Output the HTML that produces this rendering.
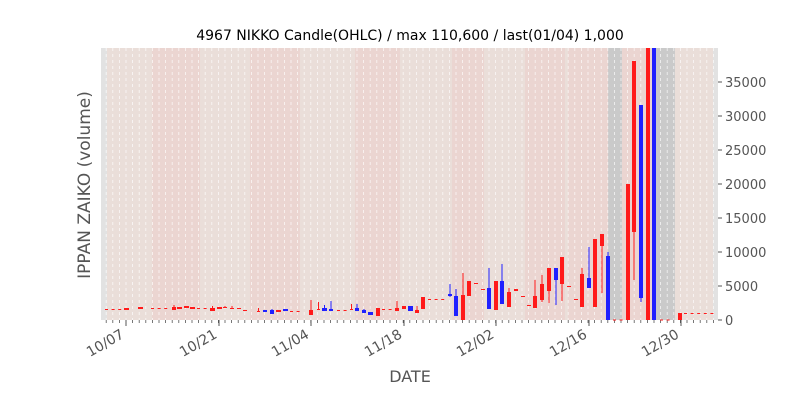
<!DOCTYPE html>
<html><head><meta charset="utf-8"><style>
html,body{margin:0;padding:0;background:#fff;width:800px;height:400px;overflow:hidden}
svg{font-family:"DejaVu Sans","Liberation Sans",sans-serif}
</style></head><body>
<svg id="s" width="800" height="400" xmlns="http://www.w3.org/2000/svg">
<text x="410" y="40" text-anchor="middle" font-size="14" fill="#000">4967 NIKKO Candle(OHLC) / max 110,600 / last(01/04) 1,000</text>
<g id="g"></g>
<text x="410" y="382" text-anchor="middle" font-size="16" fill="#555">DATE</text>
<text transform="translate(90,185) rotate(-90)" text-anchor="middle" font-size="17" fill="#555">IPPAN ZAIKO (volume)</text>
</svg>
<script>
const g=document.getElementById('g');let h='';
const L=101,R=718,T=48,B=320;
h+=`<rect x="${L}" y="${T}" width="${R-L}" height="${B-T}" fill="#eaded9"/>`;
h+=`<rect x="${L}" y="${T}" width="6" height="${B-T}" fill="#e2e2e2"/>`;
[[152,200],[250,300],[355,400],[452,484],[525,565],[568,608],[622,652]].forEach(b=>h+=`<rect x="${b[0]}" y="${T}" width="${b[1]-b[0]}" height="${B-T}" fill="rgba(255,120,110,0.08)"/>`);
h+=`<rect x="608" y="${T}" width="14" height="${B-T}" fill="#cacaca"/>`;
h+=`<rect x="655" y="${T}" width="20" height="${B-T}" fill="#cacaca"/>`;
h+=`<rect x="713" y="${T}" width="5" height="${B-T}" fill="#e2e2e2"/>`;
const d=6.6,x0=126-4*d;
for(let x=x0;x<R;x+=d){if(x<L)continue;h+=`<line x1="${x}" y1="${T}" x2="${x}" y2="${B}" stroke="#fff" stroke-width="0.8" stroke-dasharray="3,3" opacity="0.8"/>`;h+=`<line x1="${x}" y1="${B}" x2="${x}" y2="${B+3}" stroke="#555" stroke-width="0.8"/>`;}
const labs=[["10/07",126],["10/21",219],["11/04",311],["11/18",404],["12/02",496],["12/16",589],["12/30",681]];
labs.forEach(l=>{h+=`<line x1="${l[1]}" y1="${B}" x2="${l[1]}" y2="${B+6}" stroke="#555"/>`;h+=`<text transform="translate(${l[1]-1},${B+17}) rotate(-30)" text-anchor="end" font-size="14" fill="#555">${l[0]}</text>`;});
for(let v=0;v<=35000;v+=5000){const y=B-v*0.0068;h+=`<line x1="${R}" y1="${y}" x2="${R+4}" y2="${y}" stroke="#555"/><text x="${R+7}" y="${y+5}" font-size="13" fill="#555">${v}</text>`;}
const C=[
[105,123,309,309.6,309,309,'r'],[124,129,308,310,308,310,'r'],[138,143,307,309,307,309,'r'],[151,167,308,308.6,308,308,'r'],
[172,176,307,310,305,310,'r'],[177,182,307,309,307,309,'r'],[184,189,306,308,306,308,'r'],[190,195,307,309,307,309,'r'],
[197,208,308,308.6,308,308,'r'],[210,215,308,311,306,311,'r'],[217,222,307,309,307,309,'r'],[223,227,307,308,306,308,'r'],
[230,234,308,308.6,306,308,'r'],[237,241,308,308.6,308,308,'r'],[243,247,310,310.6,310,310,'r'],[257,260,311,311.6,308,311,'r'],
[263,267,310,312,310,312,'b'],[270,274,310,314,309,314,'b'],[276,281,310,312,310,312,'r'],[283,288,309,311,309,311,'b'],
[290,303,311,311.6,311,311,'r'],[309,313,310,315,300,315,'r'],[317,320,309,309.6,302,309,'r'],[322,327,308,311,305,311,'b'],
[329,333,309,311,301,311,'b'],[337,348,310,310.6,310,310,'r'],[350,353,309,309.6,304,309,'r'],[355,359,308,311,304,311,'b'],
[362,366,310,313,309,313,'b'],[368,373,312,315,312,315,'b'],[376,380,308,316,308,316,'r'],[382,390,309,309.6,309,309,'r'],
[395,399,308,311,301,311,'r'],[402,406,306,309,306,309,'r'],[408,413,306,311,306,311,'b'],[415,419,310,313,306,313,'r'],
[421,425,297,309,297,309,'r'],[428,447,299,300,299,300,'r'],
[448,452,294,296,284,297,'b'],[454,458,296,316,289,316,'b'],[461,465,295,320,273,320,'r'],[467,471,281,296,281,296,'r'],
[474,478,283,283.8,283,283,'r'],[481,485,289,289.6,289,289,'r'],[487,491,288,309,268,309,'b'],[494,498,281,310,281,310,'r'],
[500,504,281,304,264,304,'b'],[507,511,292,307,288,307,'r'],[514,518,289,291,289,291,'r'],[521,525,296,296.6,296,296,'r'],
[527,531,305,305.6,305,305,'r'],[533,537,296,308,280,308,'r'],[540,544,284,300,275,302,'r'],[547,551,268,291,268,303,'r'],
[554,558,268,280,268,305,'b'],[560,564,257,284,257,301,'r'],[567,571,286,286.6,286,286,'r'],[574,578,299,299.6,299,299,'r'],
[580,584,274,307,268,307,'r'],[587,591,278,288,247,288,'b'],[593,597,239,307,239,307,'r'],[600,604,234,246,234,293,'r'],
[606,610,256,320,252,320,'b'],[613,620,319.5,320,320,320,'r'],[626,630,184,320,184,320,'r'],[632,636,61,232,61,280,'r'],
[639,643,105,298,105,302,'b'],[646,650,48,320,48,320,'r'],[652,656,48,320,48,320,'b'],[660,673,319.5,320,320,320,'r'],
[678,682,313,320,313,320,'r'],[684,716,313,313.6,313,313,'r']];
C.forEach(c=>{const col=c[6]=='r'?'#ff1a1a':'#2020ff';const m=(c[0]+c[1])/2;
if(c[4]<c[2]||c[5]>c[3])h+=`<line x1="${m}" y1="${c[4]}" x2="${m}" y2="${c[5]}" stroke="${col}" stroke-width="1"/>`;
if(c[1]-c[0]>6){for(let x=c[0];x<c[1];x+=d)h+=`<rect x="${x}" y="${c[2]}" width="3" height="${Math.max(1,c[3]-c[2])}" fill="${col}"/>`;}
else h+=`<rect x="${c[0]}" y="${c[2]}" width="${c[1]-c[0]}" height="${Math.max(1,c[3]-c[2])}" fill="${col}"/>`;});
g.innerHTML=h;
</script>
</body></html>
